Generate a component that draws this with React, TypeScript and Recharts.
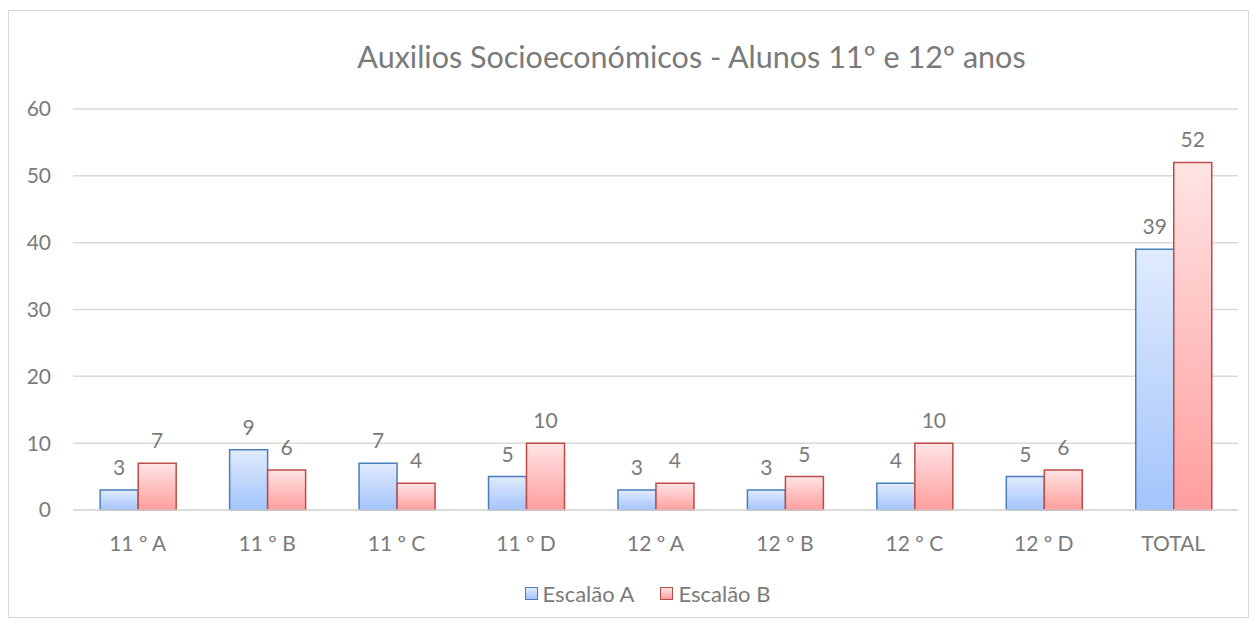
import { BarChart, Bar, XAxis, YAxis, CartesianGrid, Legend, LabelList } from 'recharts';

const turmas = ['11 º A', '11 º B', '11 º C', '11 º D', '12 º A', '12 º B', '12 º C', '12 º D', 'TOTAL'];
const escalaoA = [3, 9, 7, 5, 3, 3, 4, 5, 39];
const escalaoB = [7, 6, 4, 10, 4, 5, 10, 6, 52];
const yTicks = [0, 10, 20, 30, 40, 50, 60];

const data = turmas.map((turma, i) => ({ turma, a: escalaoA[i], b: escalaoB[i] }));

const FONT = 'Lato, "Noto Sans", sans-serif';
const GREY = '#7a7a7a';

function LegendBox() {
  const items = [
    { label: 'Escalão A', from: '#e1ebfd', to: '#a3c4fb', stroke: '#4a7ebb' },
    { label: 'Escalão B', from: '#ffe4e4', to: '#ff9e9e', stroke: '#be4b48' },
  ];
  return (
    <div style={{ display: 'flex', justifyContent: 'center', gap: 26, paddingTop: 20, paddingLeft: 48, fontFamily: FONT, fontSize: 22, color: GREY }}>
      {items.map(it => (
        <div key={it.label} style={{ display: 'flex', alignItems: 'center', gap: 5 }}>
          <span style={{ width: 11, height: 11, border: `1.5px solid ${it.stroke}`, background: `linear-gradient(${it.from}, ${it.to})` }} />
          <span>{it.label}</span>
        </div>
      ))}
    </div>
  );
}

export default function App() {
  return (
    <div style={{ position: 'relative', width: 1239, height: 606, marginTop: 2, border: '1px solid #d9d9d9', background: 'white' }}>
      <div style={{ position: 'absolute', top: 27, left: 63, width: '100%', textAlign: 'center', fontFamily: FONT, fontSize: 30.5, color: GREY }}>
        Auxilios Socioeconómicos - Alunos 11º e 12º anos
      </div>
      <BarChart width={1239} height={606} data={data} margin={{ top: 98, right: 10, left: 0, bottom: 20 }} barGap={0} barCategoryGap="21%">
        <defs>
          <linearGradient id="gradA" x1="0" y1="0" x2="0" y2="1">
            <stop offset="0%" stopColor="#e1ebfd" />
            <stop offset="100%" stopColor="#a3c4fb" />
          </linearGradient>
          <linearGradient id="gradB" x1="0" y1="0" x2="0" y2="1">
            <stop offset="0%" stopColor="#ffe4e4" />
            <stop offset="100%" stopColor="#ff9e9e" />
          </linearGradient>
        </defs>
        <CartesianGrid vertical={false} stroke="#d9d9d9" strokeWidth={1.5} />
        <XAxis dataKey="turma" height={50} tickLine={false} axisLine={{ stroke: '#d9d9d9', strokeWidth: 1.5 }} tickSize={0} tickMargin={26}
          tick={{ fontFamily: FONT, fontSize: 21, fill: GREY }} />
        <YAxis width={64} domain={[0, 60]} ticks={yTicks} tickLine={false} axisLine={false} tickSize={0} tickMargin={22}
          tick={{ fontFamily: FONT, fontSize: 21, fill: GREY }} />
        <Legend verticalAlign="bottom" height={37} content={() => <LegendBox />} />
        <Bar dataKey="a" name="Escalão A" fill="url(#gradA)" stroke="#4a7ebb" strokeWidth={1.5} isAnimationActive={false}>
          <LabelList dataKey="a" position="top" offset={15} style={{ fontFamily: FONT, fontSize: 21, fill: GREY }} />
        </Bar>
        <Bar dataKey="b" name="Escalão B" fill="url(#gradB)" stroke="#be4b48" strokeWidth={1.5} isAnimationActive={false}>
          <LabelList dataKey="b" position="top" offset={15} style={{ fontFamily: FONT, fontSize: 21, fill: GREY }} />
        </Bar>
      </BarChart>
    </div>
  );
}
